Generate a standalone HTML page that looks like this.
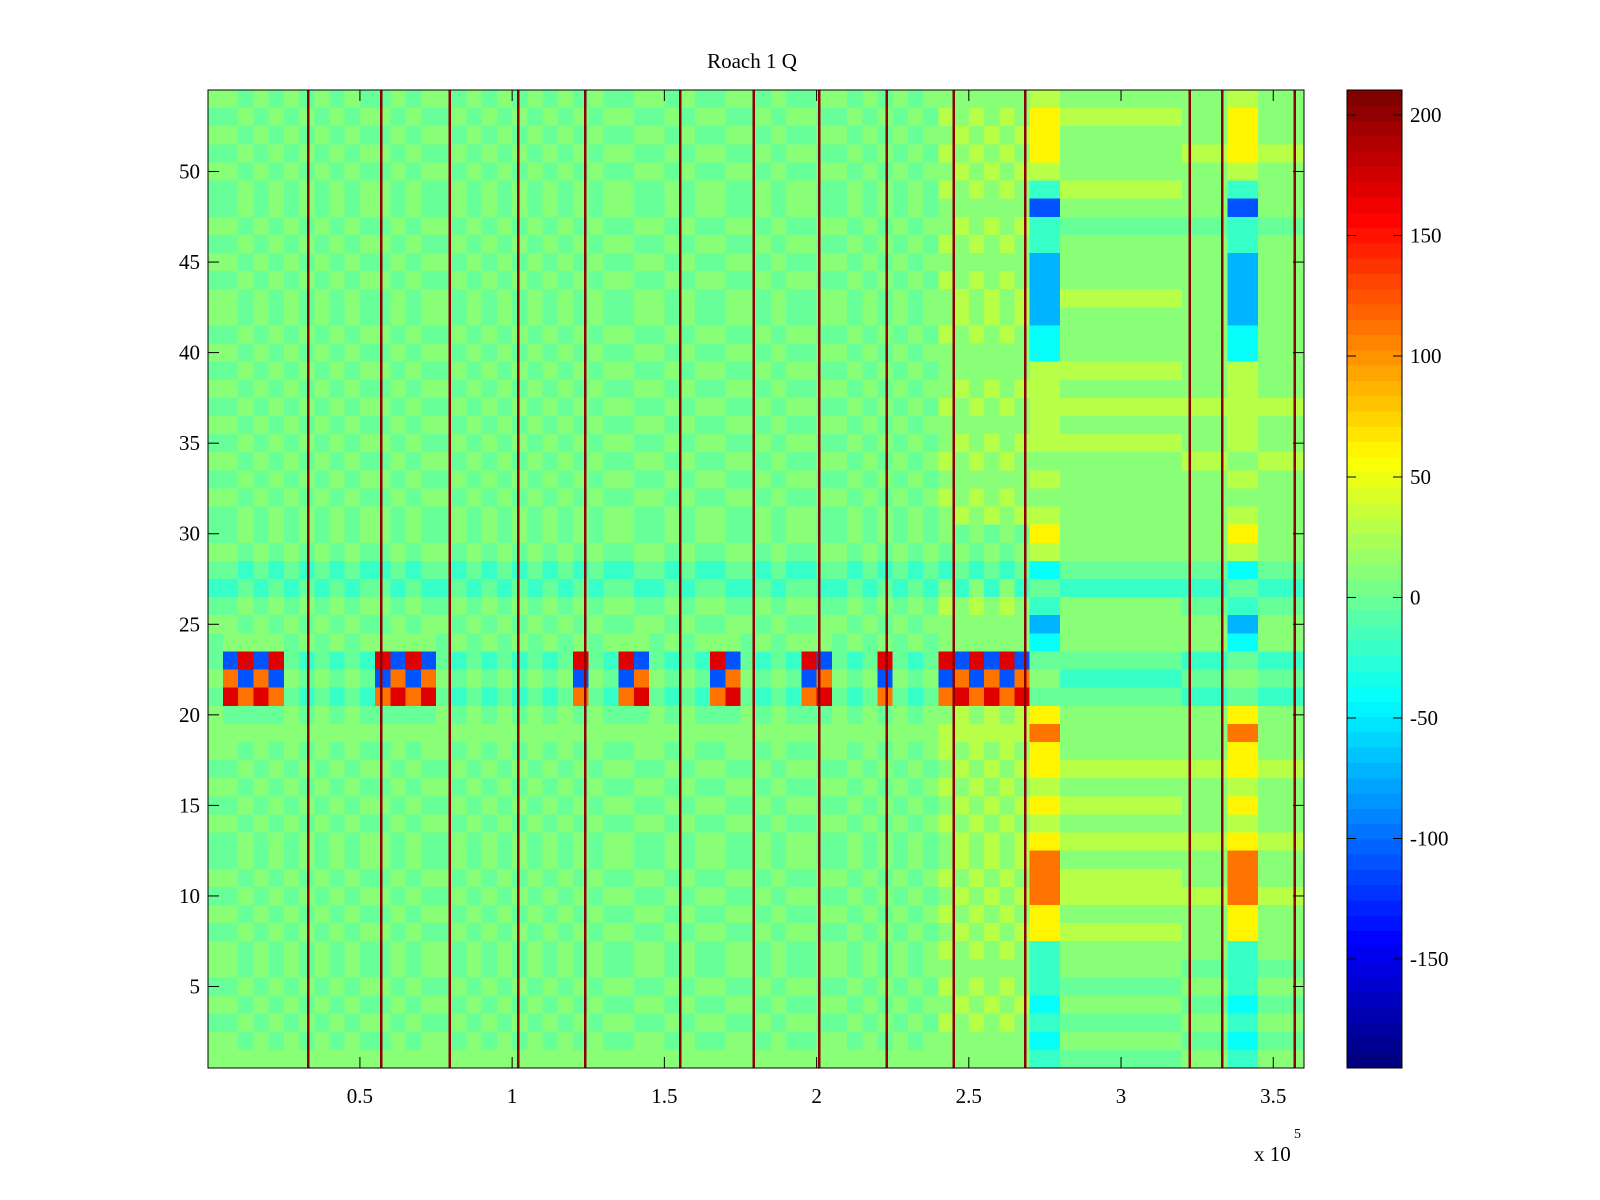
<!DOCTYPE html>
<html><head><meta charset="utf-8">
<style>
html,body{margin:0;padding:0;background:#fff;width:1600px;height:1200px;overflow:hidden}
svg text{font-family:"Liberation Serif",serif;font-size:21px;fill:#000}
</style></head>
<body>
<svg id="chart" width="1600" height="1200" viewBox="0 0 1600 1200" xmlns="http://www.w3.org/2000/svg">
<rect width="1600" height="1200" fill="#fff"/>
<text x="752" y="68" text-anchor="middle">Roach 1 Q</text>
<g id="cells" shape-rendering="crispEdges"></g>
<g id="vlines" shape-rendering="crispEdges"></g>
<g id="axes"></g>
<g id="cbar" shape-rendering="crispEdges"></g>
<text x="1254" y="1161">x 10</text>
<text x="1294" y="1138" style="font-size:14px">5</text>
</svg>
<script>
// value codes -> data values
const codeKeys = ['0','1','2','3','4','5','6','7','8','9','r'];
const codeValues = [-160,-110,-70,-40,-20,-5,10,30,60,110,170];
// row patterns, top row (54) to bottom row (1)
const rowPatterns = {
  A: "565656 656565 565656 565656 654565 645456 565656 656565 565656",
  a: "656565 565656 656565 656565 565456 556566 656565 565656 656566",
  B: "565656 656565 565656 565656 654565 6r1956 565656 656565 565656",
  b: "656565 565656 656565 656565 565456 619r56 656565 565656 656566",
  C: "676767 667676 676667 667676 654676 6r1967 767676 676767 676766",
  c: "667676 676667 766676 676667 565466 619r77 676767 767676 667666",
  D: "788874 144222 233777 776767 873542 356589 887878 999884 443434",
  E: "676667 656667 666767 676666 665466 654566 676767 677676 656565",
  G: "666766 656666 666667 667666 665456 645466 676667 667666 565656"
};
// column bin types, bins of 0.05e5 from 0 to 3.6e5
const columnTypes = "abBbBaAaAaABbBbaAaAaAaAaBaABbaAaABbaAaABbaAaBaAaCcCcCcDDEEEEEEEEGGGDDGGG";
const binWidth = 0.05;
const nRows = 54;
// channel boundary lines (x in 1e5 units)
const lineX = [0.329,0.57,0.795,1.02,1.24,1.552,1.793,2.008,2.229,2.45,2.685,3.225,3.332,3.57];
const xTicks = [0.5,1,1.5,2,2.5,3,3.5];
const xTickLabels = ["0.5","1","1.5","2","2.5","3","3.5"];
const yTicks = [5,10,15,20,25,30,35,40,45,50];
const cTicks = [200,150,100,50,0,-50,-100,-150];
const cMin = -195.2, cMax = 210.4;

const NS = "http://www.w3.org/2000/svg";
const L=208,R=1304,T=90,B=1068;
const xMin=0.001,xMax=3.601;
const xmap = v => L + (v - xMin)/(xMax - xMin)*(R-L);
const ymap = v => B - (v - 0.5)/nRows*(B-T);
function jet(t){
  t = Math.max(0,Math.min(1,t));
  t = Math.min(63,Math.floor(t*64))/63;
  const c = x => Math.round(255*Math.max(0,Math.min(1,1.5-Math.abs(x))));
  return `rgb(${c(4*t-3)},${c(4*t-2)},${c(4*t-1)})`;
}
const colorOf = v => jet((v-cMin)/(cMax-cMin));
function mk(tag, attrs, parent){
  const e=document.createElementNS(NS,tag);
  for(const k in attrs) e.setAttribute(k,attrs[k]);
  parent.appendChild(e); return e;
}
const cells=document.getElementById('cells');
for(let k=0;k<columnTypes.length;k++){
  const pat = rowPatterns[columnTypes[k]].replace(/ /g,'');
  const x0 = Math.max(xmap(k*binWidth), L), x1 = Math.min(xmap((k+1)*binWidth), R);
  if(x1<=x0) continue;
  for(let i=0;i<nRows;i++){
    const row = nRows - i;
    const v = codeValues[codeKeys.indexOf(pat[i])];
    const r = mk('rect',{x:x0,y:ymap(row+0.5),width:x1-x0+0.5,height:ymap(row-0.5)-ymap(row+0.5)+0.5,fill:colorOf(v)},cells);
    
    
  }
}
const vl=document.getElementById('vlines');
lineX.forEach(v=>{
  const r=mk('rect',{x:xmap(v)-1,y:T,width:2.5,height:B-T,fill:'#8b0000'},vl);
  
  
});
const ax=document.getElementById('axes');
mk('rect',{x:L,y:T,width:R-L,height:B-T,fill:'none',stroke:'#000','stroke-width':1},ax);
xTicks.forEach((v,i)=>{
  const x=xmap(v);
  mk('line',{x1:x,x2:x,y1:B,y2:B-11,stroke:'#000'},ax);
  mk('line',{x1:x,x2:x,y1:T,y2:T+11,stroke:'#000'},ax);
  const t=mk('text',{x:x,y:B+35,'text-anchor':'middle'},ax); t.textContent=xTickLabels[i];
  
  
});
yTicks.forEach(v=>{
  const y=ymap(v);
  mk('line',{x1:L,x2:L+11,y1:y,y2:y,stroke:'#000'},ax);
  mk('line',{x1:R,x2:R-11,y1:y,y2:y,stroke:'#000'},ax);
  const t=mk('text',{x:L-8,y:y+7,'text-anchor':'end'},ax); t.textContent=v;
  
  
});
const cb=document.getElementById('cbar');
const CL=1347,CR=1402;
for(let i=0;i<64;i++){
  const y0=B-(i+1)/64*(B-T), y1=B-i/64*(B-T);
  mk('rect',{x:CL,y:y0,width:CR-CL,height:y1-y0+0.6,fill:jet(i/63)},cb);
}
mk('rect',{x:CL,y:T,width:CR-CL,height:B-T,fill:'none',stroke:'#000'},cb);
const cmap=v=>B-(v-cMin)/(cMax-cMin)*(B-T);
cTicks.forEach(v=>{
  const y=cmap(v);
  mk('line',{x1:CL,x2:CL+9,y1:y,y2:y,stroke:'#000'},cb);
  mk('line',{x1:CR,x2:CR-9,y1:y,y2:y,stroke:'#000'},cb);
  const t=mk('text',{x:CR+8,y:y+7},cb); t.textContent=v;
  
  
});
</script>
</body></html>
